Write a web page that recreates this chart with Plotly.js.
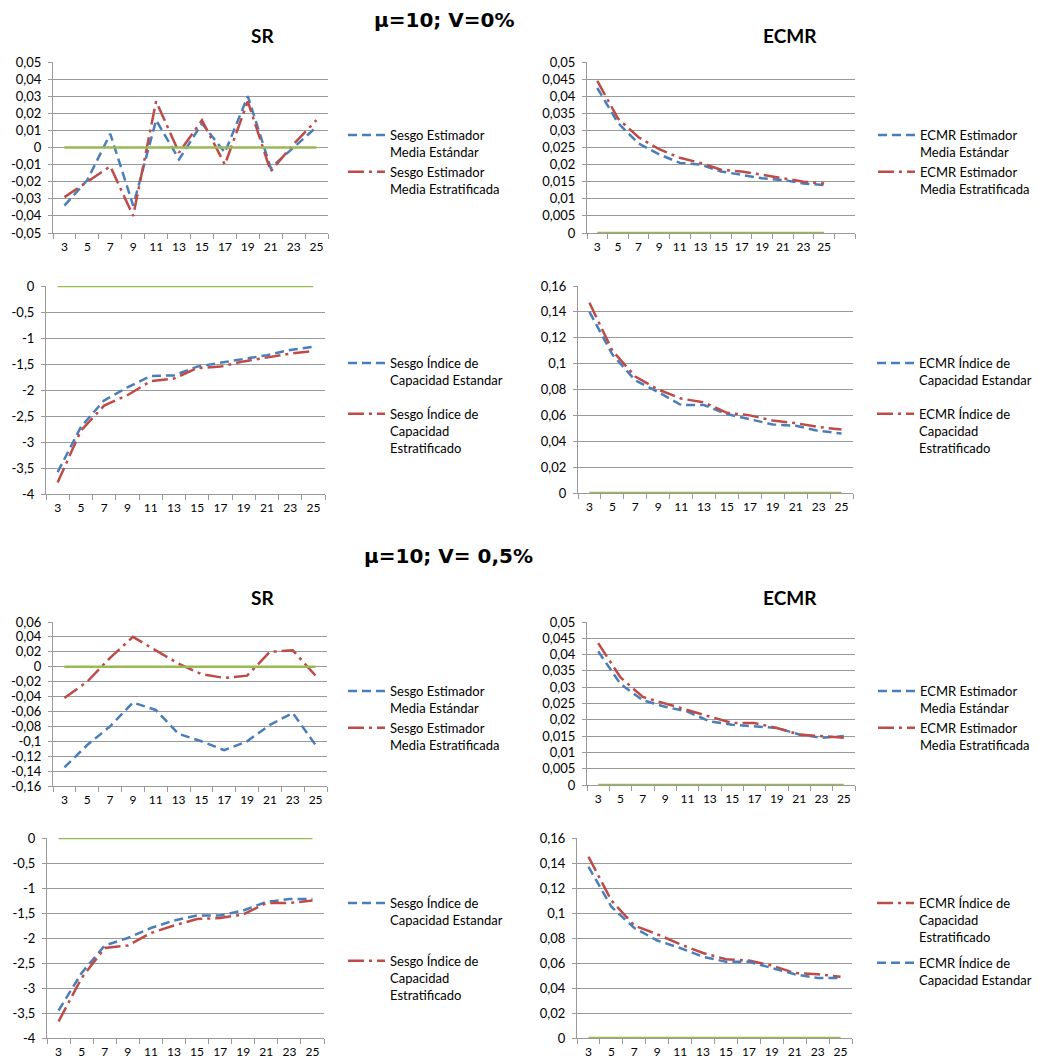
<!DOCTYPE html>
<html>
<head>
<meta charset="utf-8">
<script src="https://cdn.plot.ly/plotly-3.0.1.min.js"></script>
<style>
  html, body { margin: 0; padding: 0; background: #ffffff; }
  #chart { width: 1038px; height: 1063px; }
</style>
</head>
<body>
<div id="chart"></div>
<script>
// Sample sizes n
const sizes = [3, 5, 7, 9, 11, 13, 15, 17, 19, 21, 23, 25];
const sizeLabels = ['3', '5', '7', '9', '11', '13', '15', '17', '19', '21', '23', '25'];

// Reference (zero) series drawn in green
const zeroLine = [0, 0, 0, 0, 0, 0, 0, 0, 0, 0, 0, 0];

// μ=10; V=0%
const sesgoMediaStd0   = [-0.034, -0.019, 0.008, -0.034, 0.016, -0.007, 0.014, -0.003, 0.030, -0.012, 0.000, 0.012];
const sesgoMediaStrat0 = [-0.029, -0.020, -0.011, -0.040, 0.027, -0.003, 0.016, -0.010, 0.027, -0.014, 0.002, 0.016];
const ecmrMediaStd0    = [0.0424, 0.0322, 0.0262, 0.0230, 0.0205, 0.0200, 0.0180, 0.0170, 0.0160, 0.0155, 0.0145, 0.0140];
const ecmrMediaStrat0  = [0.0445, 0.0335, 0.0280, 0.0245, 0.0220, 0.0205, 0.0185, 0.0180, 0.0170, 0.0160, 0.0150, 0.0145];
const sesgoCapStd0     = [-3.58, -2.71, -2.20, -1.95, -1.73, -1.72, -1.55, -1.48, -1.40, -1.33, -1.23, -1.17];
const sesgoCapStrat0   = [-3.78, -2.78, -2.30, -2.10, -1.83, -1.78, -1.58, -1.55, -1.45, -1.38, -1.30, -1.25];
const ecmrCapStd0      = [0.140, 0.107, 0.087, 0.078, 0.068, 0.068, 0.061, 0.057, 0.053, 0.052, 0.048, 0.046];
const ecmrCapStrat0    = [0.147, 0.110, 0.090, 0.080, 0.073, 0.070, 0.062, 0.060, 0.056, 0.054, 0.051, 0.049];

// μ=10; V=0,5%
const sesgoMediaStd5   = [-0.135, -0.105, -0.080, -0.048, -0.058, -0.090, -0.100, -0.112, -0.100, -0.078, -0.062, -0.105];
const sesgoMediaStrat5 = [-0.042, -0.020, 0.012, 0.040, 0.022, 0.004, -0.010, -0.015, -0.012, 0.020, 0.022, -0.012];
const ecmrMediaStd5    = [0.0410, 0.0310, 0.0260, 0.0240, 0.0225, 0.0195, 0.0185, 0.0180, 0.0175, 0.0155, 0.0145, 0.0150];
const ecmrMediaStrat5  = [0.0435, 0.0330, 0.0270, 0.0250, 0.0230, 0.0210, 0.0190, 0.0190, 0.0175, 0.0155, 0.0150, 0.0145];
const sesgoCapStd5     = [-3.45, -2.70, -2.15, -2.00, -1.80, -1.65, -1.55, -1.55, -1.45, -1.28, -1.22, -1.22];
const sesgoCapStrat5   = [-3.67, -2.80, -2.20, -2.15, -1.90, -1.75, -1.62, -1.60, -1.53, -1.30, -1.30, -1.25];
const ecmrCapStd5      = [0.137, 0.105, 0.088, 0.078, 0.072, 0.065, 0.061, 0.061, 0.056, 0.051, 0.048, 0.048];
const ecmrCapStrat5    = [0.145, 0.110, 0.090, 0.083, 0.075, 0.068, 0.063, 0.062, 0.058, 0.052, 0.051, 0.049];

// Y tick values
const ticksSesgoMedia0 = [-0.05, -0.04, -0.03, -0.02, -0.01, 0, 0.01, 0.02, 0.03, 0.04, 0.05];
const ticksEcmrMedia   = [0, 0.005, 0.01, 0.015, 0.02, 0.025, 0.03, 0.035, 0.04, 0.045, 0.05];
const ticksSesgoCap    = [-4, -3.5, -3, -2.5, -2, -1.5, -1, -0.5, 0];
const ticksEcmrCap     = [0, 0.02, 0.04, 0.06, 0.08, 0.1, 0.12, 0.14, 0.16];
const ticksSesgoMedia5 = [-0.16, -0.14, -0.12, -0.1, -0.08, -0.06, -0.04, -0.02, 0, 0.02, 0.04, 0.06];

// Legend names
const nameSesgoMediaStd   = 'Sesgo Estimador<br>Media Estándar';
const nameSesgoMediaStrat = 'Sesgo Estimador<br>Media Estratificada';
const nameEcmrMediaStd    = 'ECMR Estimador<br>Media Estándar';
const nameEcmrMediaStrat  = 'ECMR Estimador<br>Media Estratificada';
const nameSesgoCapStd     = 'Sesgo Índice de<br>Capacidad Estandar';
const nameSesgoCapStrat   = 'Sesgo Índice de<br>Capacidad<br>Estratificado';
const nameEcmrCapStd      = 'ECMR Índice de<br>Capacidad Estandar';
const nameEcmrCapStrat    = 'ECMR Índice de<br>Capacidad<br>Estratificado';

const W = 1038, H = 1063;
const BLUE = '#4a7ebb', RED = '#be4b48', GREEN = '#98b954', GRID = '#9a9a9a';
const FONT = 'Lato, "Open Sans", sans-serif';

function fmt(v) {
  return String(parseFloat(v.toFixed(4))).replace('.', ',');
}

// Panel boxes in pixels: [left, right, top, bottom]; legend: [left, top, group gap]
const panels = [
  { std: sesgoMediaStd0, strat: sesgoMediaStrat0, yt: ticksSesgoMedia0, box: [53, 328, 62, 233], xmax: 26,
    names: [nameSesgoMediaStd, nameSesgoMediaStrat], leg: [343, 120, 0], stratFirst: false },
  { std: ecmrMediaStd0, strat: ecmrMediaStrat0, yt: ticksEcmrMedia, box: [587, 855, 62, 233], xmax: 28,
    names: [nameEcmrMediaStd, nameEcmrMediaStrat], leg: [873, 120, 0], stratFirst: false },
  { std: sesgoCapStd0, strat: sesgoCapStrat0, yt: ticksSesgoCap, box: [46, 325, 286, 494], xmax: 26,
    names: [nameSesgoCapStd, nameSesgoCapStrat], leg: [343, 348, 14], stratFirst: false },
  { std: ecmrCapStd0, strat: ecmrCapStrat0, yt: ticksEcmrCap, box: [578, 853, 286, 493], xmax: 26,
    names: [nameEcmrCapStd, nameEcmrCapStrat], leg: [872, 348, 14], stratFirst: false },
  { std: sesgoMediaStd5, strat: sesgoMediaStrat5, yt: ticksSesgoMedia5, box: [53, 327, 622, 786], xmax: 26,
    names: [nameSesgoMediaStd, nameSesgoMediaStrat], leg: [343, 676, 0], stratFirst: false },
  { std: ecmrMediaStd5, strat: ecmrMediaStrat5, yt: ticksEcmrMedia, box: [587, 855, 622, 785], xmax: 26,
    names: [nameEcmrMediaStd, nameEcmrMediaStrat], leg: [873, 676, 0], stratFirst: false },
  { std: sesgoCapStd5, strat: sesgoCapStrat5, yt: ticksSesgoCap, box: [47, 324, 838, 1038], xmax: 26,
    names: [nameSesgoCapStd, nameSesgoCapStrat], leg: [343, 888, 21], stratFirst: false },
  { std: ecmrCapStd5, strat: ecmrCapStrat5, yt: ticksEcmrCap, box: [577, 852, 838, 1038], xmax: 26,
    names: [nameEcmrCapStd, nameEcmrCapStrat], leg: [872, 888, 6], stratFirst: true }
];

const traces = [];
const layout = {
  width: W, height: H,
  margin: { l: 0, r: 0, t: 0, b: 0 },
  paper_bgcolor: '#ffffff', plot_bgcolor: '#ffffff',
  font: { family: FONT, size: 13, color: '#000000' },
  showlegend: true,
  annotations: []
};

panels.forEach((p, i) => {
  const s = i === 0 ? '' : String(i + 1);
  const xa = 'x' + s, ya = 'y' + s;
  const legId = i === 0 ? 'legend' : 'legend' + (i + 1);

  const stdTrace = {
    type: 'scatter', mode: 'lines', x: sizes, y: p.std, xaxis: xa, yaxis: ya,
    name: p.names[0], legend: legId, legendgroup: 'std' + i,
    line: { color: BLUE, width: 2.5, dash: '9px,5px' }
  };
  const stratTrace = {
    type: 'scatter', mode: 'lines', x: sizes, y: p.strat, xaxis: xa, yaxis: ya,
    name: p.names[1], legend: legId, legendgroup: 'strat' + i,
    line: { color: RED, width: 2.5, dash: '16px,5px,3px,5px' }
  };
  if (p.stratFirst) { traces.push(stratTrace, stdTrace); } else { traces.push(stdTrace, stratTrace); }
  traces.push({
    type: 'scatter', mode: 'lines', x: sizes, y: zeroLine, xaxis: xa, yaxis: ya,
    showlegend: false, line: { color: GREEN, width: 2.5 }
  });

  const [l, r, t, b] = p.box;
  const yt = p.yt;
  layout['xaxis' + s] = {
    domain: [l / W, r / W], anchor: ya,
    range: [2, p.xmax], fixedrange: true,
    tickmode: 'array', tickvals: sizes, ticktext: sizeLabels, ticks: '',
    showgrid: false, zeroline: false,
    showline: true, linecolor: GRID, linewidth: 1,
    tickfont: { family: FONT, size: 12, color: '#000' },
    ticklabelstandoff: 3,
    minor: { tick0: 2, dtick: 2, ticks: 'outside', ticklen: 5, tickcolor: GRID, tickwidth: 1, showgrid: false }
  };
  layout['yaxis' + s] = {
    domain: [1 - b / H, 1 - t / H], anchor: xa,
    range: [yt[0], yt[yt.length - 1]], fixedrange: true,
    tickmode: 'array', tickvals: yt, ticktext: yt.map(fmt),
    ticks: 'outside', ticklen: 4, tickcolor: GRID, tickwidth: 1,
    showgrid: true, gridcolor: GRID, gridwidth: 1, zeroline: false,
    showline: true, linecolor: GRID, linewidth: 1,
    tickfont: { family: FONT, size: 13, color: '#000' },
    ticklabelstandoff: 4
  };
  layout[legId] = {
    x: p.leg[0] / W, y: 1 - p.leg[1] / H, xanchor: 'left', yanchor: 'top',
    bgcolor: 'rgba(0,0,0,0)', borderwidth: 0,
    font: { family: FONT, size: 13, color: '#000' },
    traceorder: 'grouped', tracegroupgap: p.leg[2], valign: 'top',
    itemwidth: 37
  };
});

// Scenario headings and chart titles
const headings = [
  { text: '<b>μ=10; V=0%</b>', x: 444, y: 20 },
  { text: '<b>μ=10; V= 0,5%</b>', x: 448, y: 556 }
];
headings.forEach(h => layout.annotations.push({
  text: h.text, xref: 'paper', yref: 'paper', x: h.x / W, y: 1 - h.y / H,
  xanchor: 'center', yanchor: 'middle', showarrow: false,
  font: { family: '"DejaVu Sans", sans-serif', size: 20, color: '#000' }
}));
const titles = [
  { text: '<b>SR</b>', x: 262, y: 36 },
  { text: '<b>ECMR</b>', x: 790, y: 36 },
  { text: '<b>SR</b>', x: 262, y: 597 },
  { text: '<b>ECMR</b>', x: 790, y: 597 }
];
titles.forEach(h => layout.annotations.push({
  text: h.text, xref: 'paper', yref: 'paper', x: h.x / W, y: 1 - h.y / H,
  xanchor: 'center', yanchor: 'middle', showarrow: false,
  font: { family: FONT, size: 19, color: '#000' }
}));

Plotly.newPlot('chart', traces, layout, { staticPlot: true, displayModeBar: false });
</script>
</body>
</html>
